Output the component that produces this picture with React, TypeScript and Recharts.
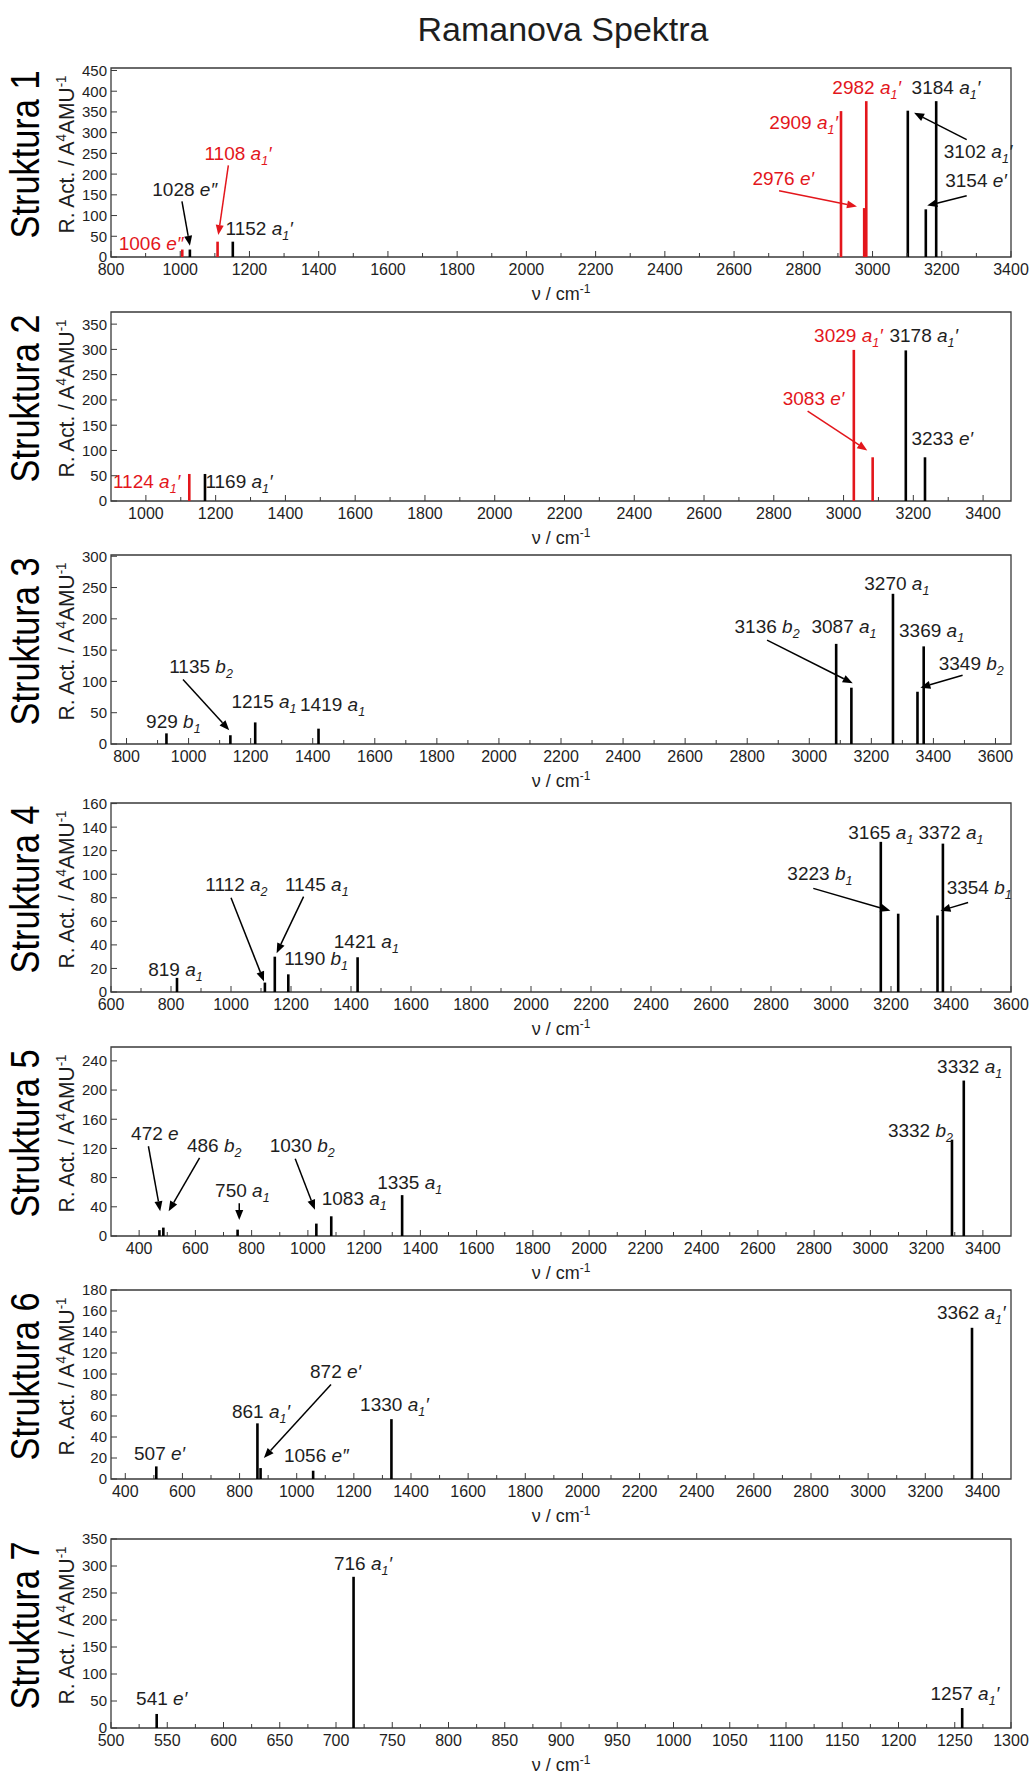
import React from 'react';
import {
  ComposedChart, Bar, XAxis, YAxis, ReferenceLine, ReferenceDot, ReferenceArea,
} from 'recharts';

const FONT = 'Arial, "Liberation Sans", Helvetica, sans-serif';
const NARROW = '"Liberation Sans Narrow", "Arial Narrow", "Liberation Sans", Arial, sans-serif';
const RED = '#e3161c';
const BLACK = '#000000';
const AXIS = '#3a3a3a';
const TEXT = '#1e1e1e';

const W = 1031;
const PLOT_LEFT = 111;
const PLOT_RIGHT = 20;
const PLOT_H = 189;
const TOP_PAD = 15;
const X_AXIS_H = 30;
const CHART_H = TOP_PAD + PLOT_H + X_AXIS_H;

// ---- Struktura 1
const s1Freq = [1006, 1028, 1108, 1152, 2909, 2976, 2982, 3102, 3154, 3184];
const s1Act = [18, 18, 37, 37, 352, 118, 376, 353, 115, 376];
const s1Red = [1, 0, 1, 0, 1, 1, 1, 0, 0, 0];
const s1XTicks = [800, 1000, 1200, 1400, 1600, 1800, 2000, 2200, 2400, 2600, 2800, 3000, 3200, 3400];
const s1YTicks = [0, 50, 100, 150, 200, 250, 300, 350, 400, 450];

// ---- Struktura 2
const s2Freq = [1124, 1169, 3029, 3083, 3178, 3233];
const s2Act = [53.5, 53.5, 299, 86.5, 298, 86.5];
const s2Red = [1, 0, 1, 1, 0, 0];
const s2XTicks = [1000, 1200, 1400, 1600, 1800, 2000, 2200, 2400, 2600, 2800, 3000, 3200, 3400];
const s2YTicks = [0, 50, 100, 150, 200, 250, 300, 350];

// ---- Struktura 3
const s3Freq = [929, 1135, 1215, 1419, 3087, 3136, 3270, 3349, 3369];
const s3Act = [17, 14, 34.5, 24.5, 160, 90, 240, 83.5, 156];
const s3Red = [0, 0, 0, 0, 0, 0, 0, 0, 0];
const s3XTicks = [800, 1000, 1200, 1400, 1600, 1800, 2000, 2200, 2400, 2600, 2800, 3000, 3200, 3400, 3600];
const s3YTicks = [0, 50, 100, 150, 200, 250, 300];

// ---- Struktura 4
const s4Freq = [819, 1112, 1145, 1190, 1421, 3165, 3223, 3354, 3372];
const s4Act = [12, 8, 30, 15, 29.5, 127.5, 66.5, 65, 126];
const s4Red = [0, 0, 0, 0, 0, 0, 0, 0, 0];
const s4XTicks = [600, 800, 1000, 1200, 1400, 1600, 1800, 2000, 2200, 2400, 2600, 2800, 3000, 3200, 3400, 3600];
const s4YTicks = [0, 20, 40, 60, 80, 100, 120, 140, 160];

// ---- Struktura 5
const s5Freq = [472, 486, 750, 1030, 1083, 1335, 3290, 3332];
const s5Act = [8, 11.5, 8.7, 17, 27, 56, 132, 213];
const s5Red = [0, 0, 0, 0, 0, 0, 0, 0];
const s5XTicks = [400, 600, 800, 1000, 1200, 1400, 1600, 1800, 2000, 2200, 2400, 2600, 2800, 3000, 3200, 3400];
const s5YTicks = [0, 40, 80, 120, 160, 200, 240];

// ---- Struktura 6
const s6Freq = [507, 861, 872, 1056, 1330, 3362];
const s6Act = [12, 53, 10.4, 7.9, 57, 144];
const s6Red = [0, 0, 0, 0, 0, 0];
const s6XTicks = [400, 600, 800, 1000, 1200, 1400, 1600, 1800, 2000, 2200, 2400, 2600, 2800, 3000, 3200, 3400];
const s6YTicks = [0, 20, 40, 60, 80, 100, 120, 140, 160, 180];

// ---- Struktura 7
const s7Freq = [541, 716, 1257];
const s7Act = [26, 280, 37];
const s7Red = [0, 0, 0];
const s7XTicks = [500, 550, 600, 650, 700, 750, 800, 850, 900, 950, 1000, 1050, 1100, 1150, 1200, 1250, 1300];
const s7YTicks = [0, 50, 100, 150, 200, 250, 300, 350];

// mode labels: [x, y (baseline), text, red]
type Ann = [number, number, string, number];
// arrows: [x from, y from, x tip, y tip, red]
type Arr = [number, number, number, number, number];

const s1Labels: Ann[] = [
  [916, 17, '1006 e″', 1], [1013, 146, '1028 e″', 0], [1167, 235, '1108 a_1′', 1],
  [1228, 53, '1152 a_1′', 0], [2801, 309, '2909 a_1′', 1], [2742, 174, '2976 e′', 1],
  [2983, 394, '2982 a_1′', 1], [3212, 394, '3184 a_1′', 0], [3305, 239, '3102 a_1′', 0],
  [3299, 170, '3154 e′', 0],
];
const s1Arrows: Arr[] = [
  [1005, 134, 1028, 27, 0], [1139, 221, 1110, 53, 1], [2730, 160, 2955, 122, 1],
  [3272, 283, 3120, 348, 0], [3272, 148, 3158, 124, 0],
];
const s2Labels: Ann[] = [
  [1002, 26, '1124 a_1′', 1], [1267, 26, '1169 a_1′', 0], [3014, 314, '3029 a_1′', 1],
  [3230, 314, '3178 a_1′', 0], [2914, 190, '3083 e′', 1], [3283, 110, '3233 e′', 0],
];
const s2Arrows: Arr[] = [[2897, 178, 3068, 100, 1]];
const s3Labels: Ann[] = [
  [951, 25, '929 b_1', 0], [1040, 113, '1135 b_2', 0], [1243, 57, '1215 a_1', 0],
  [1464, 52, '1419 a_1', 0], [2864, 177, '3136 b_2', 0], [3112, 177, '3087 a_1', 0],
  [3282, 246, '3270 a_1', 0], [3394, 171, '3369 a_1', 0], [3522, 118, '3349 b_2', 0],
];
const s3Arrows: Arr[] = [[982, 103, 1131, 22, 0], [2864, 166, 3140, 97, 0], [3494, 110, 3358, 90, 0]];
const s4Labels: Ann[] = [
  [815, 14, '819 a_1', 0], [1018, 86, '1112 a_2', 0], [1286, 86, '1145 a_1', 0],
  [1284, 23, '1190 b_1', 0], [1451, 37, '1421 a_1', 0], [3166, 130, '3165 a_1', 0],
  [3400, 130, '3372 a_1', 0], [2963, 95, '3223 b_1', 0], [3494, 83, '3354 b_1', 0],
];
const s4Arrows: Arr[] = [
  [1000, 80, 1110, 9, 0], [1242, 81, 1152, 33, 0], [2941, 88, 3198, 69, 0], [3457, 76, 3365, 69, 0],
];
const s5Labels: Ann[] = [
  [456, 131, '472 e', 0], [667, 115, '486 b_2', 0], [767, 53, '750 a_1', 0],
  [980, 115, '1030 b_2', 0], [1165, 42, '1083 a_1', 0], [1362, 65, '1335 a_1', 0],
  [3178, 136, '3332 b_2', 0], [3353, 223, '3332 a_1', 0],
];
const s5Arrows: Arr[] = [
  [433, 123, 475, 34, 0], [615, 107, 505, 34, 0], [756, 45, 756, 22, 0], [955, 106, 1025, 36, 0],
];
const s6Labels: Ann[] = [
  [520, 18, '507 e′', 0], [875, 58, '861 a_1′', 0], [1136, 96, '872 e′', 0],
  [1069, 16, '1056 e″', 0], [1342, 65, '1330 a_1′', 0], [3361, 152, '3362 a_1′', 0],
];
const s6Arrows: Arr[] = [[1120, 90, 885, 20, 0]];
const s7Labels: Ann[] = [
  [545, 43, '541 e′', 0], [724, 293, '716 a_1′', 0], [1259, 52, '1257 a_1′', 0],
];
const s7Arrows: Arr[] = [];

const panels = [
  { name: 'Struktura 1', top: 68, xDomain: [800, 3400], xMajor: s1XTicks, yMax: 456, yTicks: s1YTicks, freq: s1Freq, act: s1Act, red: s1Red, labels: s1Labels, arrows: s1Arrows },
  { name: 'Struktura 2', top: 312, xDomain: [900, 3480], xMajor: s2XTicks, yMax: 374, yTicks: s2YTicks, freq: s2Freq, act: s2Act, red: s2Red, labels: s2Labels, arrows: s2Arrows },
  { name: 'Struktura 3', top: 555, xDomain: [750, 3650], xMajor: s3XTicks, yMax: 302, yTicks: s3YTicks, freq: s3Freq, act: s3Act, red: s3Red, labels: s3Labels, arrows: s3Arrows },
  { name: 'Struktura 4', top: 803, xDomain: [600, 3600], xMajor: s4XTicks, yMax: 160.5, yTicks: s4YTicks, freq: s4Freq, act: s4Act, red: s4Red, labels: s4Labels, arrows: s4Arrows },
  { name: 'Struktura 5', top: 1047, xDomain: [300, 3500], xMajor: s5XTicks, yMax: 259, yTicks: s5YTicks, freq: s5Freq, act: s5Act, red: s5Red, labels: s5Labels, arrows: s5Arrows },
  { name: 'Struktura 6', top: 1290, xDomain: [350, 3500], xMajor: s6XTicks, yMax: 180, yTicks: s6YTicks, freq: s6Freq, act: s6Act, red: s6Red, labels: s6Labels, arrows: s6Arrows },
  { name: 'Struktura 7', top: 1539, xDomain: [500, 1300], xMajor: s7XTicks, yMax: 350, yTicks: s7YTicks, freq: s7Freq, act: s7Act, red: s7Red, labels: s7Labels, arrows: s7Arrows },
];

function withMinors(majors: number[]) {
  const out: number[] = [];
  majors.forEach((v, i) => {
    out.push(v);
    if (i < majors.length - 1) out.push((v + majors[i + 1]) / 2);
  });
  return out;
}

function XTick(props: any) {
  const { x, y, payload, majors } = props;
  const major = majors.includes(payload.value);
  return (
    <g>
      <line x1={x} x2={x} y1={y} y2={y - (major ? 6 : 4)} stroke={AXIS} strokeWidth={1} />
      {major && (
        <text x={x} y={y + 18} textAnchor="middle" fontSize={16} fontFamily={FONT} fill={TEXT}>
          {payload.value}
        </text>
      )}
    </g>
  );
}

function YTick(props: any) {
  const { x, y, payload } = props;
  return (
    <g>
      <line x1={x} x2={x + 6} y1={y} y2={y} stroke={AXIS} strokeWidth={1} />
      <text x={x - 4} y={y} dy="0.36em" textAnchor="end" fontSize={15} fontFamily={FONT} fill={TEXT}>
        {payload.value}
      </text>
    </g>
  );
}

function Stick(props: any) {
  const { x, y, width, height } = props;
  if (height == null || isNaN(height)) return null;
  const entry = props.payload ?? props;
  const cx = x + width / 2;
  const w = 2.6;
  return <rect x={cx - w / 2} y={y} width={w} height={height} fill={entry.red ? RED : BLACK} />;
}

function ModeText({ cx, cy, text, color }: any) {
  const [num, sym] = text.split(' ');
  const m = sym.match(/^([a-z])(?:_(\d))?(.*)$/) || [sym, sym, '', ''];
  return (
    <text x={cx} y={cy} textAnchor="middle" fontSize={19} fontFamily={FONT} fill={color}>
      {num + ' '}
      <tspan fontStyle="italic">{m[1]}</tspan>
      {m[2] ? <tspan fontStyle="italic" fontSize={12.5} dy={5}>{m[2]}</tspan> : null}
      {m[3] ? <tspan fontStyle="italic" dy={m[2] ? -5 : 0}>{m[3]}</tspan> : null}
    </text>
  );
}

const arrowShape = (color: string) => (p: any) => {
  const { x1, y1, x2, y2 } = p;
  const dx = x2 - x1;
  const dy = y2 - y1;
  const len = Math.hypot(dx, dy) || 1;
  const ux = dx / len;
  const uy = dy / len;
  const hl = 10;
  const hw = 4;
  const bx = x2 - ux * hl;
  const by = y2 - uy * hl;
  return (
    <g>
      <line x1={x1} y1={y1} x2={bx} y2={by} stroke={color} strokeWidth={1.5} />
      <polygon points={`${x2},${y2} ${bx - uy * hw},${by + ux * hw} ${bx + uy * hw},${by - ux * hw}`} fill={color} />
    </g>
  );
};

function Panel({ p }: any) {
  const data = p.freq.map((f: number, i: number) => ({ freq: f, act: p.act[i], red: p.red[i] }));
  const xTicks = withMinors(p.xMajor);
  return (
    <ComposedChart
      width={W}
      height={CHART_H}
      data={data}
      margin={{ top: TOP_PAD, right: PLOT_RIGHT, bottom: 0, left: 0 }}
    >
      <XAxis
        dataKey="freq"
        type="number"
        domain={p.xDomain}
        ticks={xTicks}
        interval={0}
        tickSize={0}
        tickMargin={0}
        axisLine={false}
        tickLine={false}
        height={X_AXIS_H}
        tick={(t: any) => <XTick {...t} majors={p.xMajor} />}
      />
      <YAxis
        type="number"
        domain={[0, p.yMax]}
        ticks={p.yTicks}
        interval={0}
        tickSize={0}
        tickMargin={0}
        axisLine={false}
        tickLine={false}
        width={PLOT_LEFT}
        tick={(t: any) => <YTick {...t} />}
      />
      <ReferenceArea
        x1={p.xDomain[0]}
        x2={p.xDomain[1]}
        y1={0}
        y2={p.yMax}
        fill="none"
        fillOpacity={0}
        stroke={AXIS}
        strokeWidth={1.3}
      />
      <Bar dataKey="act" isAnimationActive={false} barSize={2} shape={(s: any) => <Stick {...s} />} />
      {p.arrows.map((a: Arr, i: number) => (
        <ReferenceLine
          key={'a' + i}
          segment={[{ x: a[0], y: a[1] }, { x: a[2], y: a[3] }]}
          shape={arrowShape(a[4] ? RED : BLACK)}
        />
      ))}
      {p.labels.map((l: Ann, i: number) => (
        <ReferenceDot
          key={'l' + i}
          x={l[0]}
          y={l[1]}
          r={0}
          shape={(d: any) => <ModeText cx={d.cx} cy={d.cy} text={l[2]} color={l[3] ? RED : TEXT} />}
        />
      ))}
    </ComposedChart>
  );
}

export default function App() {
  const plotCx = PLOT_LEFT + (W - PLOT_LEFT - PLOT_RIGHT) / 2;
  return (
    <div style={{ position: 'relative', width: W, height: 1776, background: '#fff', overflow: 'hidden' }}>
      <style>{'body{margin:0}'}</style>
      <svg width={W} height={1776} style={{ position: 'absolute', left: 0, top: 0 }}>
        <text x={563} y={41} textAnchor="middle" fontSize={34} fontFamily={FONT} fill={TEXT}>
          Ramanova Spektra
        </text>
        {panels.map((p) => {
          const cy = p.top + PLOT_H / 2 - 8;
          return (
            <g key={p.name}>
              <text
                transform={`translate(39, ${cy}) rotate(-90)`}
                textAnchor="middle"
                fontSize={40}
                fontFamily={NARROW}
                fill={BLACK}
                textLength={168}
                lengthAdjust="spacingAndGlyphs"
              >
                {p.name}
              </text>
              <text
                transform={`translate(74, ${cy}) rotate(-90)`}
                textAnchor="middle"
                fontSize={22}
                fontFamily={NARROW}
                fill={TEXT}
                textLength={158}
                lengthAdjust="spacingAndGlyphs"
              >
                R. Act. / A
                <tspan dy={-8} fontSize={14}>4</tspan>
                <tspan dy={8}>AMU</tspan>
                <tspan dy={-8} fontSize={14}>-1</tspan>
              </text>
              <text x={plotCx} y={p.top + PLOT_H + 43} textAnchor="middle" fontSize={18} fontFamily={FONT} fill={TEXT}>
                ν / cm
                <tspan dy={-7} fontSize={12}>-1</tspan>
              </text>
            </g>
          );
        })}
      </svg>
      {panels.map((p) => (
        <div key={p.name} style={{ position: 'absolute', left: 0, top: p.top - TOP_PAD }}>
          <Panel p={p} />
        </div>
      ))}
    </div>
  );
}
